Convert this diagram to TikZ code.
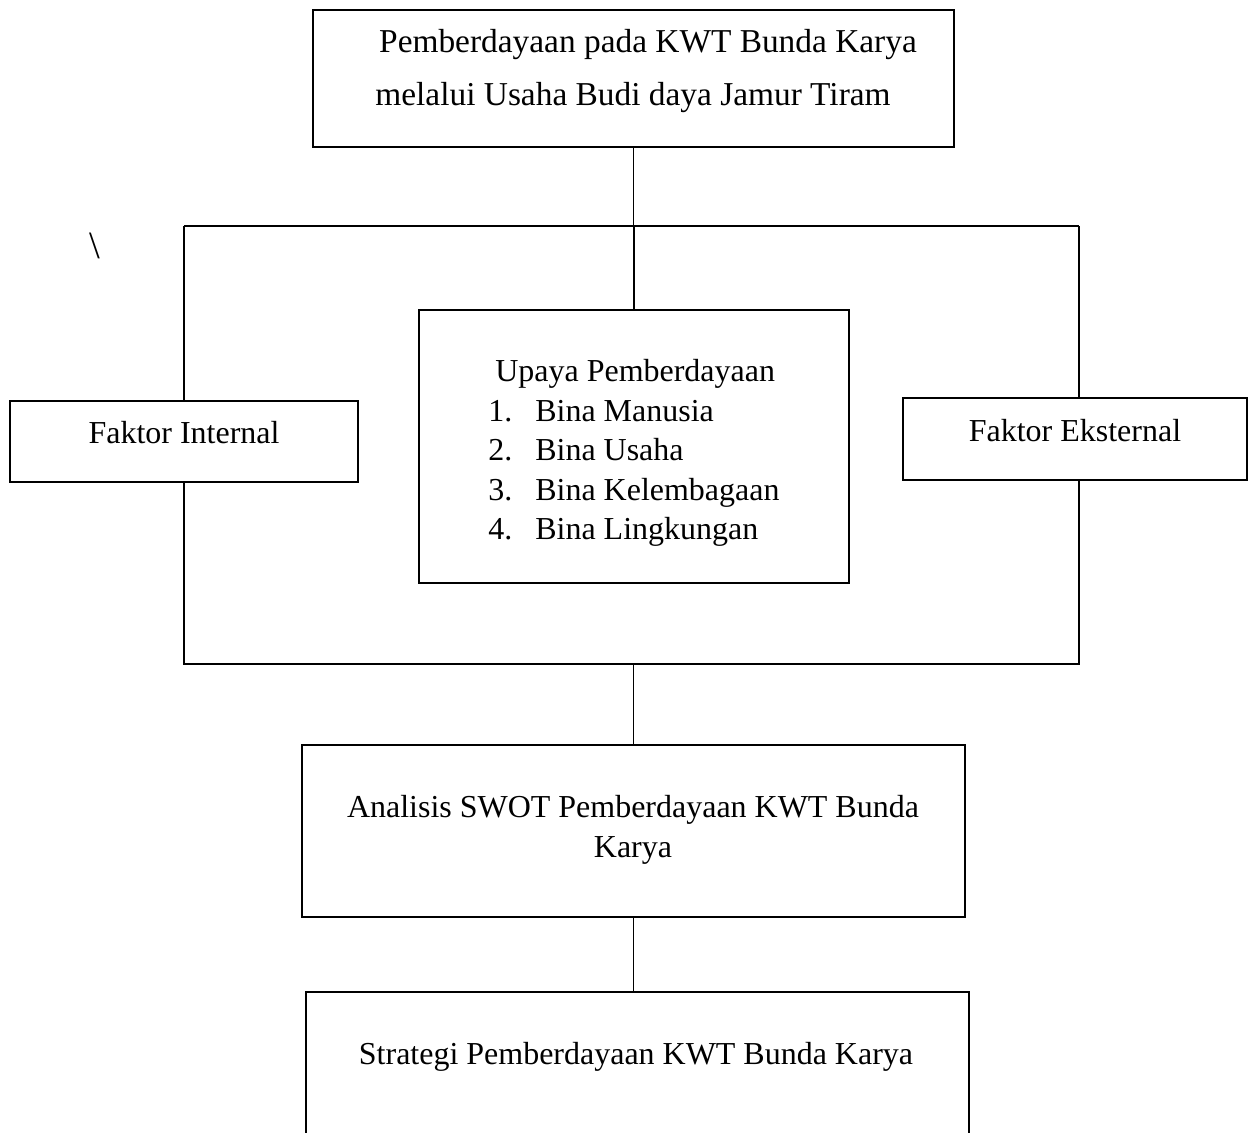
\documentclass[tikz,border=0pt]{standalone}
\usepackage{fontspec}
\setmainfont{Liberation Serif}
\usetikzlibrary{positioning}

\tikzset{
    box/.style={draw, line width=1pt, rectangle, inner sep=0pt},
    txt/.style={font=\fontsize{18.2}{22.5}\selectfont, align=center, inner sep=0pt},
    link/.style={line width=1pt}
}

\begin{document}
\begin{tikzpicture}[x=0.02cm, y=-0.02cm]
    % Page frame (reference size, in pixels)
    \clip (0,0) rectangle (1249,1133);

    % Top box
    \node[box, minimum width=12.82cm, minimum height=2.74cm] (top) at (633.5, 78.5) {};
    \node[txt, font=\fontsize{19}{30}\selectfont] (topText) at (633, 71)
        {\hspace*{0.6cm}Pemberdayaan pada KWT Bunda Karya\\melalui Usaha Budi daya Jamur Tiram};

    % Stray mark
    \node[txt, font=\fontsize{22}{22}\selectfont] (mark) at (95, 246) {\textbackslash};

    % Middle row
    \node[box, minimum width=6.96cm, minimum height=1.62cm] (internal) at (184, 441.5) {};
    \node[txt] (internalText) at (184, 433) {Faktor Internal};

    \node[box, minimum width=8.6cm, minimum height=5.46cm] (upaya) at (634, 446.5) {};
    \node[txt, align=left, anchor=west] (upayaText) at (488, 453)
        {\hspace*{0.14cm}Upaya Pemberdayaan\\
         \makebox[0.94cm][l]{1.}Bina Manusia\\
         \makebox[0.94cm][l]{2.}Bina Usaha\\
         \makebox[0.94cm][l]{3.}Bina Kelembagaan\\
         \makebox[0.94cm][l]{4.}Bina Lingkungan};

    \node[box, minimum width=6.88cm, minimum height=1.64cm] (eksternal) at (1075, 439) {};
    \node[txt] (eksternalText) at (1075, 431) {Faktor Eksternal};

    % Lower boxes
    \node[box, minimum width=13.26cm, minimum height=3.44cm] (swot) at (633.5, 831) {};
    \node[txt, font=\fontsize{18.2}{22.7}\selectfont] (swotText) at (633, 830)
        {Analisis SWOT Pemberdayaan KWT Bunda\\Karya};

    \node[box, minimum width=13.26cm, minimum height=4.16cm] (strategi) at (637.5, 1096) {};
    \node[txt] (strategiText) at (636, 1057) {Strategi Pemberdayaan KWT Bunda Karya};

    % Frame corners
    \coordinate (tl) at (184, 226);
    \coordinate (tr) at (1079, 226);
    \coordinate (bl) at (184, 664);
    \coordinate (br) at (1079, 664);

    % Connectors
    \draw[link] (top.south) -- (top.south |- tl);
    \draw[link] (tl) -- (tr);
    \draw[link] (tl) -- (internal.north);
    \draw[link] (upaya.north |- tl) -- (upaya.north);
    \draw[link] (tr) -- (tr |- eksternal.north);
    \draw[link] (internal.south) -- (bl) -- (br) -- (br |- eksternal.south);
    \draw[link] (swot.north |- bl) -- (swot.north);
    \draw[link] (swot.south) -- (swot.south |- strategi.north);
\end{tikzpicture}
\end{document}
